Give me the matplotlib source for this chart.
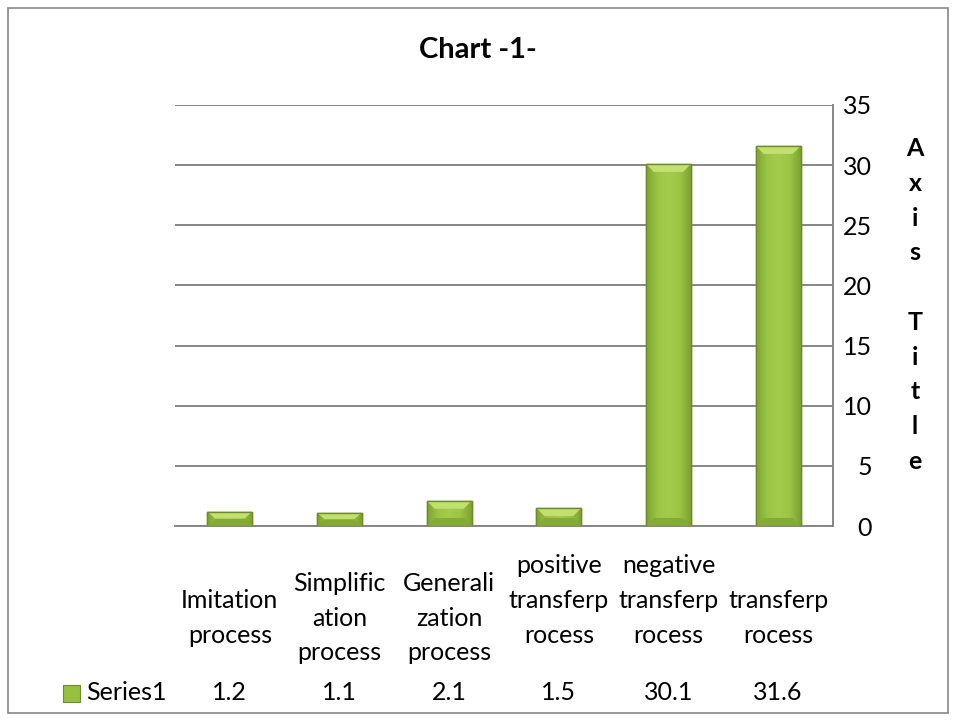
import numpy as np
import matplotlib
matplotlib.use("Agg")
import matplotlib.pyplot as plt
from matplotlib.patches import Rectangle, Polygon
from matplotlib.colors import LinearSegmentedColormap
from matplotlib.transforms import blended_transform_factory

categories = ["Imitation\nprocess", "Simplific\nation\nprocess", "Generali\nzation\nprocess",
              "positive\ntransferp\nrocess\n", "negative\ntransferp\nrocess\n", "transferp\nrocess"]
values = [1.2, 1.1, 2.1, 1.5, 30.1, 31.6]
value_labels = ["1.2", "1.1", "2.1", "1.5", "30.1", "31.6"]
series_name = "Series1"
yticks = [0, 5, 10, 15, 20, 25, 30, 35]

plt.rcParams['font.family'] = ['Lato', 'DejaVu Sans']
FS = 18

fig = plt.figure(figsize=(9.57, 7.22), dpi=100)
ax = fig.add_axes([175/957, 1-526/722, (833-175)/957, (526-105)/722])

x = np.arange(len(categories))
bars = ax.bar(x, values, width=0.41, color='#98C040', edgecolor='#6E8C2A', linewidth=1.0, zorder=3)

ax.set_xlim(-0.5, len(categories) - 0.5)
ax.set_ylim(0, 35)

cmap = LinearSegmentedColormap.from_list('g', ['#7EA332', '#9CC546', '#A3CB4C', '#9CC546', '#7EA332'])
grad = np.linspace(0, 1, 100).reshape(1, -1)
# bevel size: ~8 px expressed in data units
px_x = (len(categories)) / (833 - 175)
px_y = 35 / (526 - 105)
bev_x, bev_y = 8 * px_x, 8 * px_y
for b in bars:
    bx, by, bw, bh = b.get_x(), b.get_y(), b.get_width(), b.get_height()
    im = ax.imshow(grad, extent=[bx, bx + bw, by, by + bh], aspect='auto', cmap=cmap, zorder=3.5)
    im.set_clip_path(b)
    top = by + bh
    by_ = min(bev_y, bh / 2)
    ax.add_patch(Polygon([(bx, top), (bx + bw, top), (bx + bw - bev_x, top - by_), (bx + bev_x, top - by_)],
                         closed=True, facecolor='#C2E070', edgecolor='none', zorder=3.7))
    ax.add_patch(Polygon([(bx, by), (bx + bw, by), (bx + bw - bev_x, by + by_), (bx + bev_x, by + by_)],
                         closed=True, facecolor='#86AA36', edgecolor='none', zorder=3.7))
    ax.add_patch(Rectangle((bx, by), bw, bh, fill=False, edgecolor='#6E8C2A', linewidth=1.0, zorder=4))

ax.set_yticks(yticks)
ax.yaxis.tick_right()
ax.tick_params(axis='y', length=0, pad=28, labelsize=FS)
for lab in ax.get_yticklabels():
    lab.set_horizontalalignment('right')
ax.set_xticks([])
ax.grid(axis='y', color='#868686', linewidth=1.4, zorder=0)
ax.set_axisbelow(True)
for s in ['top', 'left']:
    ax.spines[s].set_visible(False)
ax.spines['right'].set_color('#868686')
ax.spines['bottom'].set_color('#868686')
ax.spines['right'].set_linewidth(1.4)
ax.spines['bottom'].set_linewidth(1.4)

trans = blended_transform_factory(ax.transData, fig.transFigure)
for i, c in enumerate(categories):
    ax.text(i, 1 - 618/722, c, transform=trans, ha='center', va='center', fontsize=FS,
            linespacing=1.62, color='black')
for i, v in enumerate(value_labels):
    ax.text(i, 1 - 693/722, v, transform=trans, ha='center', va='center', fontsize=FS, color='black')

fig.text(86/957, 1 - 693/722, series_name, ha='left', va='center', fontsize=FS)
fig.patches.append(Rectangle((63/957, 1 - 702/722), 17/957, 17/722, transform=fig.transFigure,
                             facecolor='#98C040', edgecolor='#6E8C2A', linewidth=0.8))

fig.text(478/957, 1 - 50/722, "Chart -1-", ha='center', va='center', fontsize=21, fontweight='bold')
fig.text(915/957, 1 - 305/722, "A\nx\ni\ns\n\nT\ni\nt\nl\ne", ha='center', va='center',
         fontsize=FS, fontweight='bold', linespacing=1.62)

fig.patches.append(Rectangle((8/957, 1 - 713/722), 940/957, 705/722, transform=fig.transFigure,
                             fill=False, edgecolor='#868686', linewidth=1.2))

fig.savefig("out.png", dpi=100)
